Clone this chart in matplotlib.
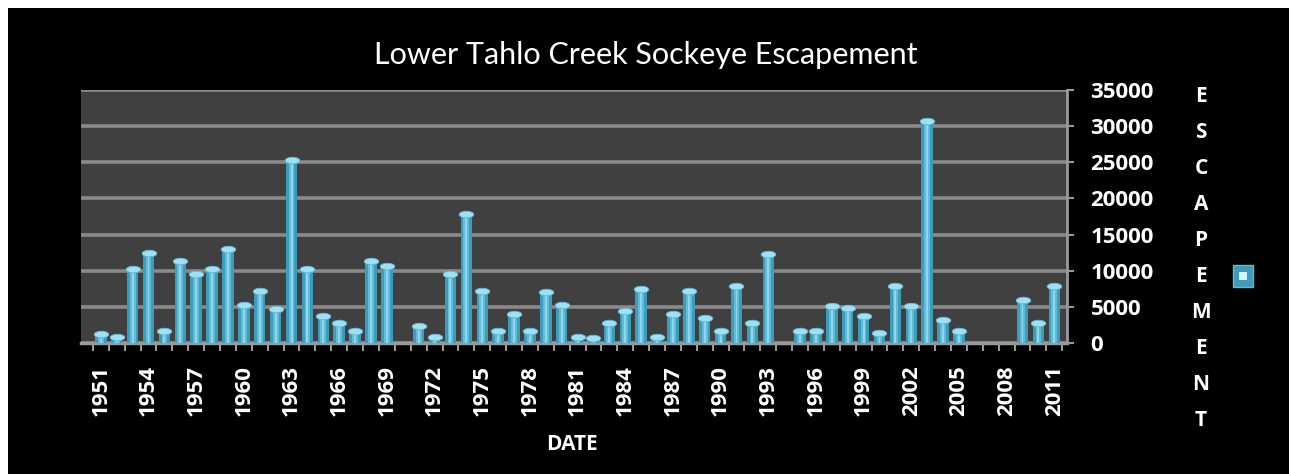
import numpy as np
import matplotlib.pyplot as plt
from matplotlib.path import Path
from matplotlib.patches import Rectangle

# Lower Tahlo Creek sockeye escapement, 1951-2011
years = list(range(1951, 2012))
escapement = [
    1300, 800, 10300, 12400, 1600, 11400, 9500, 10300, 13000, 5200,
    7200, 4700, 25300, 10300, 3700, 2800, 1700, 11400, 10700, 0,
    2300, 800, 9500, 17800, 7200, 1600, 4000, 1600, 7100, 5200,
    800, 700, 2800, 4400, 7500, 800, 4000, 7200, 3400, 1600,
    7900, 2800, 12300, 0, 1600, 1600, 5100, 4800, 3700, 1400,
    7900, 5100, 30700, 3200, 1600, 0, 0, 0, 5900, 2800,
    7900,
]
y_ticks = [0, 5000, 10000, 15000, 20000, 25000, 30000, 35000]
y_label = "ESCAPEMENT"
x_label = "DATE"
title = "Lower Tahlo Creek Sockeye Escapement"

plt.rcParams['font.family'] = ['Lato', 'DejaVu Sans']
BOLD_FONT = ['Open Sans', 'DejaVu Sans']

W, H = 1289, 474
fig = plt.figure(figsize=(W / 100, H / 100), dpi=100, facecolor='white')
# black chart area with a thin white margin at left and top
fig.patches.append(Rectangle((8 / W, 0), 1, 1 - 8 / H, transform=fig.transFigure,
                             facecolor='black', edgecolor='none', zorder=-10))

ax = fig.add_axes([81 / W, 1 - 343 / H, (1067 - 81) / W, (343 - 90) / H])
ax.set_facecolor('#404040')

x = np.arange(len(years))
vals = np.array(escapement)

# cylinder-ish bars: dark base, lighter core, pale top cap
ax.bar(x, vals, width=0.72, color='#3d9bbb', zorder=3)
ax.bar(x, vals, width=0.36, color='#62bcd8', zorder=4)
ax.bar(x, vals, width=0.12, color='#8fd6ec', zorder=5)
theta = np.linspace(0, 2 * np.pi, 40)
ellipse = Path(np.column_stack([np.cos(theta), 0.45 * np.sin(theta)]), closed=True)
nz = vals > 0
ax.scatter(x[nz], vals[nz], marker=ellipse, s=110, color='#9fe0f2',
           edgecolors='#5fb8d4', linewidths=0.6, zorder=6)

ax.set_xlim(-1.25, 60.8)
ax.set_ylim(0, 35000)

# gridlines
ax.set_yticks(y_ticks)
ax.grid(axis='y', color='#8a8a8a', linewidth=2.6, zorder=1)
ax.set_axisbelow(True)

# right-hand value axis
ax.yaxis.tick_right()
ax.tick_params(axis='y', direction='out', length=5, width=1.5, color='#9a9a9a',
               pad=12, labelcolor='white')
ax.set_yticklabels([str(v) for v in y_ticks], family=BOLD_FONT, fontsize=16,
                   fontweight='bold')

# category axis: labels every 3 years, tick marks between categories
ax.set_xticks(x[::3])
ax.set_xticklabels([str(y) for y in years[::3]], rotation=90, color='white',
                   family=BOLD_FONT, fontsize=16, fontweight='bold')
ax.set_xticks(np.arange(-0.5, len(years), 1), minor=True)
ax.tick_params(axis='x', which='major', length=0, pad=16)
ax.tick_params(axis='x', which='minor', direction='out', length=6, width=1.5,
               color='#9a9a9a')

for side in ['top', 'left']:
    ax.spines[side].set_visible(False)
ax.spines['bottom'].set_color('#9a9a9a')
ax.spines['bottom'].set_linewidth(2.5)
ax.spines['right'].set_color('#9a9a9a')
ax.spines['right'].set_linewidth(2)

fig.text(646 / W, 1 - 55 / H, title, color='white', fontsize=22,
         ha='center', va='center')
fig.text(572 / W, 1 - 445 / H, x_label, color='white', family=BOLD_FONT,
         fontsize=15, fontweight='bold', ha='center', va='center')

# stacked vertical axis title
for i, ch in enumerate(y_label):
    fig.text(1201 / W, 1 - (97 + i * 36) / H, ch, color='white', family=BOLD_FONT,
             fontsize=15, fontweight='bold', ha='center', va='center')

# legend key (single unnamed series)
fig.patches.append(Rectangle((1233 / W, 1 - 287 / H), 20 / W, 22 / H,
                             transform=fig.transFigure, facecolor='#3d9bbb',
                             edgecolor='#5fb8d4', zorder=2))
fig.patches.append(Rectangle((1239 / W, 1 - 280 / H), 8 / W, 8 / H,
                             transform=fig.transFigure, facecolor='#d8f4fb',
                             edgecolor='none', zorder=3))

fig.savefig('out.png', dpi=100, facecolor=fig.get_facecolor())
